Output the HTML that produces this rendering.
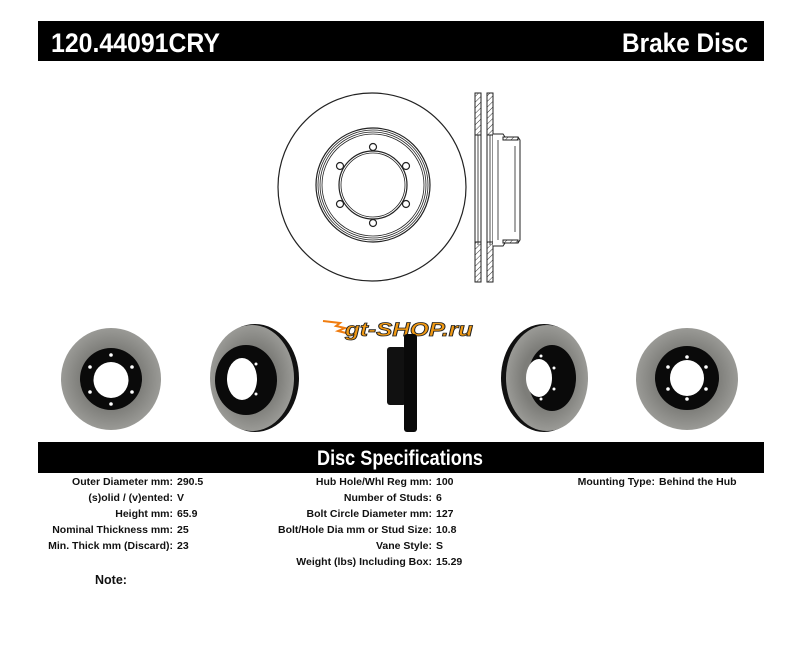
<!DOCTYPE html>
<html><head><meta charset="utf-8"><style>
html,body{margin:0;padding:0;background:#fff;}
svg{display:block;}
text{font-family:"Liberation Sans",Arial,sans-serif;font-weight:bold;}
</style></head><body>
<svg width="800" height="655" viewBox="0 0 800 655" xmlns="http://www.w3.org/2000/svg">
<defs>
<pattern id="hatch" width="4" height="4" patternUnits="userSpaceOnUse" patternTransform="rotate(45)">
<line x1="0" y1="0" x2="0" y2="4" stroke="#333" stroke-width="1"/>
</pattern>
<radialGradient id="gr" cx="50%" cy="50%" r="50%">
<stop offset="0.6" stop-color="#7d7d79"/><stop offset="1" stop-color="#9a9a96"/>
</radialGradient>
</defs>
<rect x="38" y="21" width="726" height="40" fill="#000"/>
<text x="51" y="52" fill="#fff" font-size="27" textLength="169" lengthAdjust="spacingAndGlyphs">120.44091CRY</text>
<text x="748" y="52" fill="#fff" font-size="27" text-anchor="end" textLength="126" lengthAdjust="spacingAndGlyphs">Brake Disc</text>

<g fill="none" stroke="#222">
<circle cx="372" cy="187" r="94" stroke-width="1.2"/>
<circle cx="373" cy="185" r="57" stroke-width="1.2"/>
<circle cx="373" cy="185" r="55" stroke-width="0.8"/>
<circle cx="373" cy="185" r="53" stroke-width="0.8"/>
<circle cx="373" cy="185" r="51" stroke-width="0.8"/>
<circle cx="373" cy="185" r="34" stroke-width="1.2"/>
<circle cx="373" cy="185" r="32" stroke-width="0.8"/>
<circle cx="373" cy="147" r="3.5" stroke-width="1.2"/>
<circle cx="373" cy="223" r="3.5" stroke-width="1.2"/>
<circle cx="340" cy="166" r="3.5" stroke-width="1.2"/>
<circle cx="406" cy="166" r="3.5" stroke-width="1.2"/>
<circle cx="340" cy="204" r="3.5" stroke-width="1.2"/>
<circle cx="406" cy="204" r="3.5" stroke-width="1.2"/>
</g>
<g stroke="#222" stroke-width="1">
<rect x="475" y="93" width="6" height="42" fill="url(#hatch)"/>
<rect x="487" y="93" width="6" height="42" fill="url(#hatch)"/>
<rect x="475" y="242" width="6" height="40" fill="url(#hatch)"/>
<rect x="487" y="242" width="6" height="40" fill="url(#hatch)"/>
<path d="M475 93 V282 M493 93 V282 M481 93 V282 M487 93 V282" fill="none"/>
<path d="M493 134 L503 134 L505 137 L518 137 L520 140 V240 L518 243 L505 243 L503 246 L493 246" fill="#fff"/>
<rect x="503" y="137" width="15" height="3" fill="url(#hatch)"/>
<rect x="503" y="240" width="15" height="3" fill="url(#hatch)"/>
<path d="M478 135 V245 M490 135 V245 M498 140 V240 M515 146 V232" fill="none" stroke-width="0.8"/>
</g>

<g>
<path d="M323 321 L340 323 L336 326 L345 328 L338 331 L350 334" stroke="#f07d10" stroke-width="2" fill="none"/>
<text x="345" y="336" font-size="19" font-style="italic" fill="#f39a12" stroke="#222" stroke-width="0.8" textLength="128" lengthAdjust="spacingAndGlyphs">gt-SHOP.ru</text>
</g>

<ellipse cx="111" cy="379" rx="50" ry="51" fill="url(#gr)"/>
<ellipse cx="111" cy="379" rx="31" ry="31" fill="#0a0a0a"/>
<ellipse cx="111" cy="380" rx="17.5" ry="18" fill="#fff"/>
<g fill="#fff"><circle cx="111" cy="355" r="1.8"/><circle cx="111" cy="404" r="1.8"/><circle cx="90" cy="367" r="1.8"/><circle cx="132" cy="367" r="1.8"/><circle cx="90" cy="392" r="1.8"/><circle cx="132" cy="392" r="1.8"/></g>

<ellipse cx="255" cy="378" rx="44" ry="54" fill="#111"/>
<ellipse cx="252" cy="378" rx="42" ry="53" fill="url(#gr)"/>
<ellipse cx="246" cy="380" rx="31" ry="35" fill="#0a0a0a"/>
<ellipse cx="242" cy="379" rx="15" ry="21" fill="#fff"/>
<g fill="#fff"><circle cx="256" cy="364" r="1.5"/><circle cx="256" cy="394" r="1.5"/></g>

<rect x="387" y="347" width="19" height="58" rx="3" fill="#111"/>
<rect x="404" y="334" width="13" height="98" rx="3" fill="#0a0a0a"/>

<ellipse cx="544" cy="378" rx="43" ry="54" fill="#111"/>
<ellipse cx="547" cy="378" rx="41" ry="53" fill="url(#gr)"/>
<ellipse cx="552" cy="378" rx="24" ry="33" fill="#0a0a0a"/>
<ellipse cx="539" cy="378" rx="13" ry="19" fill="#fff"/>
<g fill="#fff"><circle cx="541" cy="356" r="1.5"/><circle cx="554" cy="368" r="1.5"/><circle cx="554" cy="389" r="1.5"/><circle cx="541" cy="399" r="1.5"/></g>

<ellipse cx="687" cy="379" rx="51" ry="51" fill="url(#gr)"/>
<ellipse cx="687" cy="378" rx="32" ry="32" fill="#0a0a0a"/>
<ellipse cx="687" cy="378" rx="17" ry="18" fill="#fff"/>
<g fill="#fff"><circle cx="687" cy="357" r="1.8"/><circle cx="687" cy="399" r="1.8"/><circle cx="668" cy="367" r="1.8"/><circle cx="706" cy="367" r="1.8"/><circle cx="668" cy="389" r="1.8"/><circle cx="706" cy="389" r="1.8"/></g>

<rect x="38" y="442" width="726" height="31" fill="#000"/>
<text x="400" y="465" fill="#fff" font-size="21" text-anchor="middle" textLength="166" lengthAdjust="spacingAndGlyphs">Disc Specifications</text>

<g font-size="10.5" fill="#111">
<text x="173" y="485" text-anchor="end">Outer Diameter mm:</text><text x="177" y="485">290.5</text>
<text x="173" y="501" text-anchor="end">(s)olid / (v)ented:</text><text x="177" y="501">V</text>
<text x="173" y="517" text-anchor="end">Height mm:</text><text x="177" y="517">65.9</text>
<text x="173" y="533" text-anchor="end">Nominal Thickness mm:</text><text x="177" y="533">25</text>
<text x="173" y="549" text-anchor="end">Min. Thick mm (Discard):</text><text x="177" y="549">23</text>

<text x="432" y="485" text-anchor="end">Hub Hole/Whl Reg mm:</text><text x="436" y="485">100</text>
<text x="432" y="501" text-anchor="end">Number of Studs:</text><text x="436" y="501">6</text>
<text x="432" y="517" text-anchor="end">Bolt Circle Diameter mm:</text><text x="436" y="517">127</text>
<text x="432" y="533" text-anchor="end">Bolt/Hole Dia mm or Stud Size:</text><text x="436" y="533">10.8</text>
<text x="432" y="549" text-anchor="end">Vane Style:</text><text x="436" y="549">S</text>
<text x="432" y="565" text-anchor="end">Weight (lbs) Including Box:</text><text x="436" y="565">15.29</text>

<text x="655" y="485" text-anchor="end">Mounting Type:</text><text x="659" y="485">Behind the Hub</text>
<text x="95" y="584" font-size="12.5">Note:</text>
</g>
</svg>
</body></html>
